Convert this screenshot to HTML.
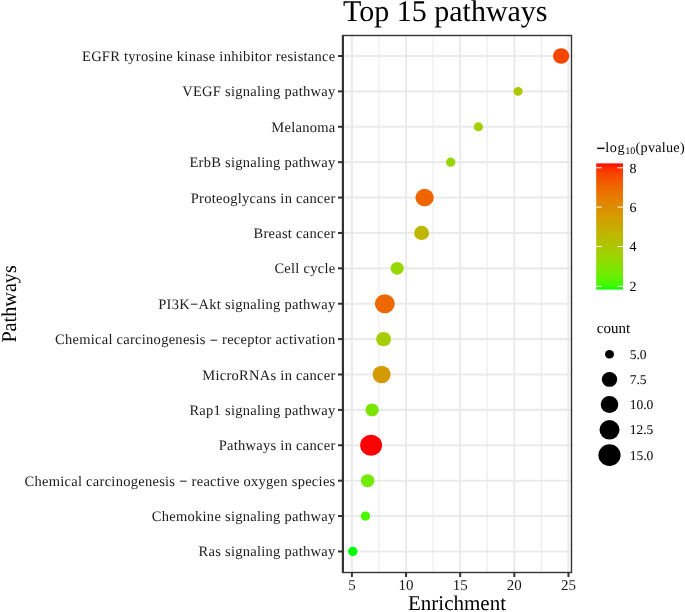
<!DOCTYPE html>
<html><head><meta charset="utf-8"><style>
html,body{margin:0;padding:0;background:#fff;}
body{width:685px;height:612px;position:relative;overflow:hidden;font-family:"Liberation Serif",serif;}
svg text{text-rendering:geometricPrecision;}
</style></head><body>
<svg width="685" height="612" viewBox="0 0 685 612" style="position:absolute;left:0;top:0;will-change:transform"><line x1="378.98" y1="35.5" x2="378.98" y2="572.5" stroke="#ebebeb" stroke-width="1.1"/><line x1="433.12" y1="35.5" x2="433.12" y2="572.5" stroke="#ebebeb" stroke-width="1.1"/><line x1="487.25" y1="35.5" x2="487.25" y2="572.5" stroke="#ebebeb" stroke-width="1.1"/><line x1="541.39" y1="35.5" x2="541.39" y2="572.5" stroke="#ebebeb" stroke-width="1.1"/><line x1="351.91" y1="35.5" x2="351.91" y2="572.5" stroke="#ebebeb" stroke-width="2.1"/><line x1="406.05" y1="35.5" x2="406.05" y2="572.5" stroke="#ebebeb" stroke-width="2.1"/><line x1="460.18" y1="35.5" x2="460.18" y2="572.5" stroke="#ebebeb" stroke-width="2.1"/><line x1="514.32" y1="35.5" x2="514.32" y2="572.5" stroke="#ebebeb" stroke-width="2.1"/><line x1="568.45" y1="35.5" x2="568.45" y2="572.5" stroke="#ebebeb" stroke-width="2.1"/><line x1="342.5" y1="56.00" x2="571.5" y2="56.00" stroke="#ebebeb" stroke-width="2.1"/><line x1="342.5" y1="91.39" x2="571.5" y2="91.39" stroke="#ebebeb" stroke-width="2.1"/><line x1="342.5" y1="126.78" x2="571.5" y2="126.78" stroke="#ebebeb" stroke-width="2.1"/><line x1="342.5" y1="162.17" x2="571.5" y2="162.17" stroke="#ebebeb" stroke-width="2.1"/><line x1="342.5" y1="197.56" x2="571.5" y2="197.56" stroke="#ebebeb" stroke-width="2.1"/><line x1="342.5" y1="232.95" x2="571.5" y2="232.95" stroke="#ebebeb" stroke-width="2.1"/><line x1="342.5" y1="268.34" x2="571.5" y2="268.34" stroke="#ebebeb" stroke-width="2.1"/><line x1="342.5" y1="303.73" x2="571.5" y2="303.73" stroke="#ebebeb" stroke-width="2.1"/><line x1="342.5" y1="339.12" x2="571.5" y2="339.12" stroke="#ebebeb" stroke-width="2.1"/><line x1="342.5" y1="374.51" x2="571.5" y2="374.51" stroke="#ebebeb" stroke-width="2.1"/><line x1="342.5" y1="409.90" x2="571.5" y2="409.90" stroke="#ebebeb" stroke-width="2.1"/><line x1="342.5" y1="445.29" x2="571.5" y2="445.29" stroke="#ebebeb" stroke-width="2.1"/><line x1="342.5" y1="480.68" x2="571.5" y2="480.68" stroke="#ebebeb" stroke-width="2.1"/><line x1="342.5" y1="516.07" x2="571.5" y2="516.07" stroke="#ebebeb" stroke-width="2.1"/><line x1="342.5" y1="551.46" x2="571.5" y2="551.46" stroke="#ebebeb" stroke-width="2.1"/><ellipse cx="561.10" cy="56.00" rx="8.10" ry="7.80" fill="#f84600"/><ellipse cx="518.10" cy="91.39" rx="4.55" ry="4.45" fill="#acc800"/><ellipse cx="478.40" cy="126.78" rx="4.70" ry="4.45" fill="#a2d000"/><ellipse cx="450.70" cy="162.17" rx="4.65" ry="4.55" fill="#97d800"/><ellipse cx="424.60" cy="197.56" rx="9.20" ry="8.70" fill="#ef6500"/><ellipse cx="421.60" cy="232.95" rx="7.50" ry="7.10" fill="#bfb600"/><ellipse cx="397.20" cy="268.34" rx="6.55" ry="6.40" fill="#97d800"/><ellipse cx="384.80" cy="303.73" rx="9.95" ry="9.60" fill="#ed6900"/><ellipse cx="383.60" cy="339.12" rx="7.50" ry="7.20" fill="#a4ce00"/><ellipse cx="381.60" cy="374.51" rx="9.00" ry="8.70" fill="#d49b00"/><ellipse cx="372.10" cy="409.90" rx="6.70" ry="6.45" fill="#7de600"/><ellipse cx="371.10" cy="445.29" rx="10.95" ry="10.50" fill="#ff0000"/><ellipse cx="367.60" cy="480.68" rx="6.75" ry="6.45" fill="#71eb00"/><ellipse cx="365.45" cy="516.07" rx="4.75" ry="4.65" fill="#49f700"/><ellipse cx="352.80" cy="551.46" rx="4.70" ry="4.65" fill="#00ff00"/><rect x="342.5" y="35.5" width="229.0" height="537.0" fill="none" stroke="#333333" stroke-width="1.4"/><line x1="343" y1="34.9" x2="343" y2="573.1" stroke="#333333" stroke-width="2"/><line x1="338" y1="56.00" x2="342.5" y2="56.00" stroke="#333333" stroke-width="2"/><text x="335.5" y="61.00" text-anchor="end" font-family="'Liberation Serif', serif" font-size="14.5" letter-spacing="0.27" fill="#1a1a1a">EGFR tyrosine kinase inhibitor resistance</text><line x1="338" y1="91.39" x2="342.5" y2="91.39" stroke="#333333" stroke-width="2"/><text x="335.5" y="96.39" text-anchor="end" font-family="'Liberation Serif', serif" font-size="14.5" letter-spacing="0.27" fill="#1a1a1a">VEGF signaling pathway</text><line x1="338" y1="126.78" x2="342.5" y2="126.78" stroke="#333333" stroke-width="2"/><text x="335.5" y="131.78" text-anchor="end" font-family="'Liberation Serif', serif" font-size="14.5" letter-spacing="0.27" fill="#1a1a1a">Melanoma</text><line x1="338" y1="162.17" x2="342.5" y2="162.17" stroke="#333333" stroke-width="2"/><text x="335.5" y="167.17" text-anchor="end" font-family="'Liberation Serif', serif" font-size="14.5" letter-spacing="0.27" fill="#1a1a1a">ErbB signaling pathway</text><line x1="338" y1="197.56" x2="342.5" y2="197.56" stroke="#333333" stroke-width="2"/><text x="335.5" y="202.56" text-anchor="end" font-family="'Liberation Serif', serif" font-size="14.5" letter-spacing="0.27" fill="#1a1a1a">Proteoglycans in cancer</text><line x1="338" y1="232.95" x2="342.5" y2="232.95" stroke="#333333" stroke-width="2"/><text x="335.5" y="237.95" text-anchor="end" font-family="'Liberation Serif', serif" font-size="14.5" letter-spacing="0.27" fill="#1a1a1a">Breast cancer</text><line x1="338" y1="268.34" x2="342.5" y2="268.34" stroke="#333333" stroke-width="2"/><text x="335.5" y="273.34" text-anchor="end" font-family="'Liberation Serif', serif" font-size="14.5" letter-spacing="0.27" fill="#1a1a1a">Cell cycle</text><line x1="338" y1="303.73" x2="342.5" y2="303.73" stroke="#333333" stroke-width="2"/><text x="335.5" y="308.73" text-anchor="end" font-family="'Liberation Serif', serif" font-size="14.5" letter-spacing="0.27" fill="#1a1a1a">PI3K<tspan font-weight="bold" dy="0.6">−</tspan><tspan dy="-0.6">Akt signaling pathway</tspan></text><line x1="338" y1="339.12" x2="342.5" y2="339.12" stroke="#333333" stroke-width="2"/><text x="335.5" y="344.12" text-anchor="end" font-family="'Liberation Serif', serif" font-size="14.5" letter-spacing="0.27" fill="#1a1a1a">Chemical carcinogenesis <tspan font-weight="bold" dy="0.6">−</tspan><tspan dy="-0.6"> receptor activation</tspan></text><line x1="338" y1="374.51" x2="342.5" y2="374.51" stroke="#333333" stroke-width="2"/><text x="335.5" y="379.51" text-anchor="end" font-family="'Liberation Serif', serif" font-size="14.5" letter-spacing="0.27" fill="#1a1a1a">MicroRNAs in cancer</text><line x1="338" y1="409.90" x2="342.5" y2="409.90" stroke="#333333" stroke-width="2"/><text x="335.5" y="414.90" text-anchor="end" font-family="'Liberation Serif', serif" font-size="14.5" letter-spacing="0.27" fill="#1a1a1a">Rap1 signaling pathway</text><line x1="338" y1="445.29" x2="342.5" y2="445.29" stroke="#333333" stroke-width="2"/><text x="335.5" y="450.29" text-anchor="end" font-family="'Liberation Serif', serif" font-size="14.5" letter-spacing="0.27" fill="#1a1a1a">Pathways in cancer</text><line x1="338" y1="480.68" x2="342.5" y2="480.68" stroke="#333333" stroke-width="2"/><text x="335.5" y="485.68" text-anchor="end" font-family="'Liberation Serif', serif" font-size="14.5" letter-spacing="0.27" fill="#1a1a1a">Chemical carcinogenesis <tspan font-weight="bold" dy="0.6">−</tspan><tspan dy="-0.6"> reactive oxygen species</tspan></text><line x1="338" y1="516.07" x2="342.5" y2="516.07" stroke="#333333" stroke-width="2"/><text x="335.5" y="521.07" text-anchor="end" font-family="'Liberation Serif', serif" font-size="14.5" letter-spacing="0.27" fill="#1a1a1a">Chemokine signaling pathway</text><line x1="338" y1="551.46" x2="342.5" y2="551.46" stroke="#333333" stroke-width="2"/><text x="335.5" y="556.46" text-anchor="end" font-family="'Liberation Serif', serif" font-size="14.5" letter-spacing="0.27" fill="#1a1a1a">Ras signaling pathway</text><line x1="351.91" y1="572.5" x2="351.91" y2="577" stroke="#333333" stroke-width="2"/><text x="351.91" y="590" text-anchor="middle" font-family="'Liberation Serif', serif" font-size="15" fill="#1a1a1a">5</text><line x1="406.05" y1="572.5" x2="406.05" y2="577" stroke="#333333" stroke-width="2"/><text x="406.05" y="590" text-anchor="middle" font-family="'Liberation Serif', serif" font-size="15" fill="#1a1a1a">10</text><line x1="460.18" y1="572.5" x2="460.18" y2="577" stroke="#333333" stroke-width="2"/><text x="460.18" y="590" text-anchor="middle" font-family="'Liberation Serif', serif" font-size="15" fill="#1a1a1a">15</text><line x1="514.32" y1="572.5" x2="514.32" y2="577" stroke="#333333" stroke-width="2"/><text x="514.32" y="590" text-anchor="middle" font-family="'Liberation Serif', serif" font-size="15" fill="#1a1a1a">20</text><line x1="568.45" y1="572.5" x2="568.45" y2="577" stroke="#333333" stroke-width="2"/><text x="568.45" y="590" text-anchor="middle" font-family="'Liberation Serif', serif" font-size="15" fill="#1a1a1a">25</text><text x="457" y="609.9" text-anchor="middle" font-family="'Liberation Serif', serif" font-size="21" fill="#000">Enrichment</text><text transform="translate(16.2,303.9) rotate(-90) scale(0.962,1)" x="0" y="0" text-anchor="middle" font-family="'Liberation Serif', serif" font-size="21" fill="#000">Pathways</text><text x="343" y="20.8" font-family="'Liberation Serif', serif" font-size="30" fill="#000">Top 15 pathways</text><defs><linearGradient id="cb" x1="0" y1="0" x2="0" y2="1"><stop offset="0.00" stop-color="#ff0000"/><stop offset="0.01" stop-color="#fe1300"/><stop offset="0.02" stop-color="#fd1e00"/><stop offset="0.03" stop-color="#fd2700"/><stop offset="0.04" stop-color="#fc2d00"/><stop offset="0.05" stop-color="#fb3300"/><stop offset="0.06" stop-color="#fa3900"/><stop offset="0.07" stop-color="#f93d00"/><stop offset="0.08" stop-color="#f84200"/><stop offset="0.09" stop-color="#f84600"/><stop offset="0.10" stop-color="#f74a00"/><stop offset="0.11" stop-color="#f64e00"/><stop offset="0.12" stop-color="#f55100"/><stop offset="0.13" stop-color="#f45500"/><stop offset="0.14" stop-color="#f35800"/><stop offset="0.15" stop-color="#f25b00"/><stop offset="0.16" stop-color="#f15e00"/><stop offset="0.17" stop-color="#f06100"/><stop offset="0.18" stop-color="#ef6400"/><stop offset="0.19" stop-color="#ee6700"/><stop offset="0.20" stop-color="#ed6a00"/><stop offset="0.21" stop-color="#ec6c00"/><stop offset="0.22" stop-color="#eb6f00"/><stop offset="0.23" stop-color="#ea7200"/><stop offset="0.24" stop-color="#e97400"/><stop offset="0.25" stop-color="#e87600"/><stop offset="0.26" stop-color="#e77900"/><stop offset="0.27" stop-color="#e67b00"/><stop offset="0.28" stop-color="#e57e00"/><stop offset="0.29" stop-color="#e48000"/><stop offset="0.30" stop-color="#e38200"/><stop offset="0.31" stop-color="#e28500"/><stop offset="0.32" stop-color="#e08700"/><stop offset="0.33" stop-color="#df8900"/><stop offset="0.34" stop-color="#de8b00"/><stop offset="0.35" stop-color="#dd8d00"/><stop offset="0.36" stop-color="#dc8f00"/><stop offset="0.37" stop-color="#da9100"/><stop offset="0.38" stop-color="#d99400"/><stop offset="0.39" stop-color="#d89600"/><stop offset="0.40" stop-color="#d79800"/><stop offset="0.41" stop-color="#d59a00"/><stop offset="0.42" stop-color="#d49c00"/><stop offset="0.43" stop-color="#d39e00"/><stop offset="0.44" stop-color="#d1a000"/><stop offset="0.45" stop-color="#d0a100"/><stop offset="0.46" stop-color="#cea300"/><stop offset="0.47" stop-color="#cda500"/><stop offset="0.48" stop-color="#cca700"/><stop offset="0.49" stop-color="#caa900"/><stop offset="0.50" stop-color="#c9ab00"/><stop offset="0.51" stop-color="#c7ad00"/><stop offset="0.52" stop-color="#c5af00"/><stop offset="0.53" stop-color="#c4b100"/><stop offset="0.54" stop-color="#c2b200"/><stop offset="0.55" stop-color="#c1b400"/><stop offset="0.56" stop-color="#bfb600"/><stop offset="0.57" stop-color="#bdb800"/><stop offset="0.58" stop-color="#bbba00"/><stop offset="0.59" stop-color="#babb00"/><stop offset="0.60" stop-color="#b8bd00"/><stop offset="0.61" stop-color="#b6bf00"/><stop offset="0.62" stop-color="#b4c100"/><stop offset="0.63" stop-color="#b2c200"/><stop offset="0.64" stop-color="#b0c400"/><stop offset="0.65" stop-color="#aec600"/><stop offset="0.66" stop-color="#acc800"/><stop offset="0.67" stop-color="#aac900"/><stop offset="0.68" stop-color="#a8cb00"/><stop offset="0.69" stop-color="#a6cd00"/><stop offset="0.70" stop-color="#a4ce00"/><stop offset="0.71" stop-color="#a1d000"/><stop offset="0.72" stop-color="#9fd200"/><stop offset="0.73" stop-color="#9dd300"/><stop offset="0.74" stop-color="#9ad500"/><stop offset="0.75" stop-color="#98d700"/><stop offset="0.76" stop-color="#95d800"/><stop offset="0.77" stop-color="#92da00"/><stop offset="0.78" stop-color="#90dc00"/><stop offset="0.79" stop-color="#8ddd00"/><stop offset="0.80" stop-color="#8adf00"/><stop offset="0.81" stop-color="#87e100"/><stop offset="0.82" stop-color="#84e200"/><stop offset="0.83" stop-color="#81e400"/><stop offset="0.84" stop-color="#7de600"/><stop offset="0.85" stop-color="#7ae700"/><stop offset="0.86" stop-color="#76e900"/><stop offset="0.87" stop-color="#72ea00"/><stop offset="0.88" stop-color="#6eec00"/><stop offset="0.89" stop-color="#6aee00"/><stop offset="0.90" stop-color="#65ef00"/><stop offset="0.91" stop-color="#60f100"/><stop offset="0.92" stop-color="#5bf200"/><stop offset="0.93" stop-color="#56f400"/><stop offset="0.94" stop-color="#50f600"/><stop offset="0.95" stop-color="#49f700"/><stop offset="0.96" stop-color="#41f900"/><stop offset="0.97" stop-color="#38fa00"/><stop offset="0.98" stop-color="#2efc00"/><stop offset="0.99" stop-color="#1ffd00"/><stop offset="1.00" stop-color="#00ff00"/></linearGradient></defs><rect x="596.2" y="163.4" width="26.799999999999955" height="126.20000000000002" fill="url(#cb)"/><line x1="596.2" y1="167.8" x2="601.7" y2="167.8" stroke="#fff" stroke-width="1"/><line x1="617.5" y1="167.8" x2="623" y2="167.8" stroke="#fff" stroke-width="1"/><text x="629.5" y="172.50" font-family="'Liberation Serif', serif" font-size="14" fill="#000">8</text><line x1="596.2" y1="207.1" x2="601.7" y2="207.1" stroke="#fff" stroke-width="1"/><line x1="617.5" y1="207.1" x2="623" y2="207.1" stroke="#fff" stroke-width="1"/><text x="629.5" y="211.80" font-family="'Liberation Serif', serif" font-size="14" fill="#000">6</text><line x1="596.2" y1="246.5" x2="601.7" y2="246.5" stroke="#fff" stroke-width="1"/><line x1="617.5" y1="246.5" x2="623" y2="246.5" stroke="#fff" stroke-width="1"/><text x="629.5" y="251.20" font-family="'Liberation Serif', serif" font-size="14" fill="#000">4</text><line x1="596.2" y1="286.3" x2="601.7" y2="286.3" stroke="#fff" stroke-width="1"/><line x1="617.5" y1="286.3" x2="623" y2="286.3" stroke="#fff" stroke-width="1"/><text x="629.5" y="291.00" font-family="'Liberation Serif', serif" font-size="14" fill="#000">2</text><rect x="597.2" y="147.6" width="7.4" height="1.5" fill="#111"/><text x="605.3" y="151.6" font-family="'Liberation Serif', serif" font-size="14.2" letter-spacing="0.6" fill="#000">log</text><text x="625.2" y="153.9" font-family="'Liberation Serif', serif" font-size="10" fill="#000">10</text><text x="635.6" y="151.6" font-family="'Liberation Serif', serif" font-size="14.2" letter-spacing="0.25" fill="#000">(pvalue)</text><text x="596.8" y="333" font-family="'Liberation Serif', serif" font-size="15" fill="#000">count</text><ellipse cx="609.5" cy="354.2" rx="4.5" ry="4.3" fill="#000"/><text x="629.7" y="358.70" font-family="'Liberation Serif', serif" font-size="13.5" fill="#000">5.0</text><ellipse cx="609.5" cy="379.4" rx="7.7" ry="7.4" fill="#000"/><text x="629.7" y="383.90" font-family="'Liberation Serif', serif" font-size="13.5" fill="#000">7.5</text><ellipse cx="609.5" cy="404.4" rx="8.8" ry="8.5" fill="#000"/><text x="629.7" y="408.90" font-family="'Liberation Serif', serif" font-size="13.5" fill="#000">10.0</text><ellipse cx="609.5" cy="429.8" rx="10.0" ry="9.7" fill="#000"/><text x="629.7" y="434.30" font-family="'Liberation Serif', serif" font-size="13.5" fill="#000">12.5</text><ellipse cx="609.5" cy="455.1" rx="11.1" ry="10.8" fill="#000"/><text x="629.7" y="459.60" font-family="'Liberation Serif', serif" font-size="13.5" fill="#000">15.0</text></svg>
</body></html>
